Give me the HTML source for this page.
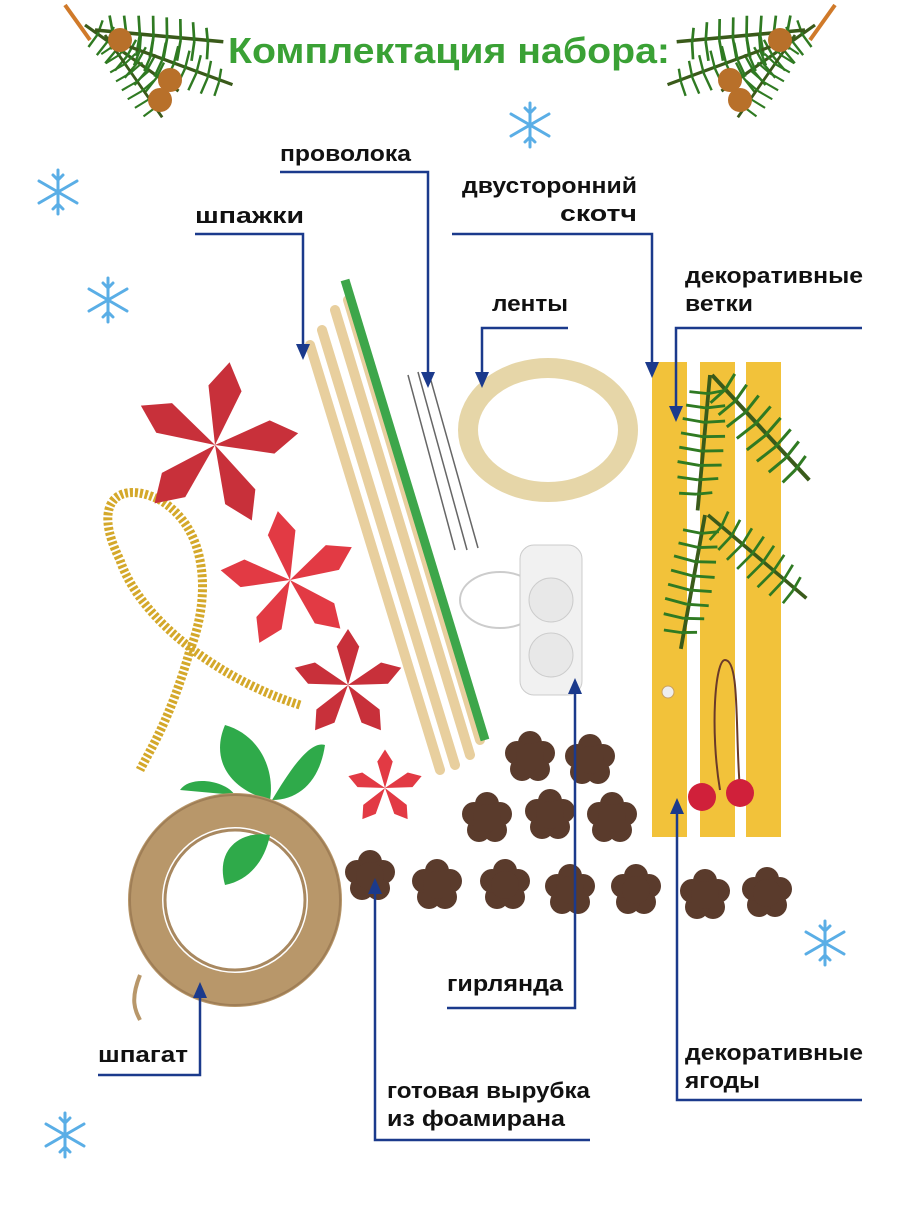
<!DOCTYPE html>
<html><head><meta charset="utf-8"><style>
body{margin:0;background:#fff;width:900px;height:1200px;overflow:hidden;font-family:"Liberation Sans",sans-serif}
</style></head><body>
<svg width="900" height="1200" viewBox="0 0 900 1200" xmlns="http://www.w3.org/2000/svg" font-family="Liberation Sans, sans-serif">
<defs>
<g id="fl"><g fill="#5a3b2c"><circle cx="0" cy="-14" r="12"/><circle cx="13" cy="-4" r="12"/><circle cx="8" cy="12" r="12"/><circle cx="-8" cy="12" r="12"/><circle cx="-13" cy="-4" r="12"/><circle r="14"/></g></g>
<g id="poin"><g><path d="M0,0 L-14,-48 L0,-70 L14,-48Z"/><path d="M0,0 L-14,-48 L0,-70 L14,-48Z" transform="rotate(72)"/><path d="M0,0 L-14,-48 L0,-70 L14,-48Z" transform="rotate(144)"/><path d="M0,0 L-14,-48 L0,-70 L14,-48Z" transform="rotate(216)"/><path d="M0,0 L-14,-48 L0,-70 L14,-48Z" transform="rotate(288)"/></g></g>
<g id="sf" stroke="#5aaee6" stroke-width="3" stroke-linecap="round" fill="none"><path d="M0,-22V22M-19,-11L19,11M-19,11L19,-11M-5,-17L0,-12L5,-17M-5,17L0,12L5,17"/></g>
<g id="pine" stroke="#2f7a22" stroke-width="3"><path d="M0,0 L60,130" stroke="#3a5a1a" stroke-width="4"/>
<path d="M8,18l-18,8M14,32l-20,8M20,46l-22,8M26,60l-22,8M32,74l-22,8M38,88l-22,8M44,102l-20,8M50,116l-16,8M8,18l14,-12M14,32l16,-12M20,46l18,-12M26,60l20,-12M32,74l20,-12M38,88l20,-12M44,102l18,-12M50,116l14,-10"/></g>
<g id="corner">
<use href="#pine" transform="translate(20,20) rotate(-30) scale(0.8)"/>
<use href="#pine" transform="translate(30,25) rotate(-60) scale(0.9)"/>
<use href="#pine" transform="translate(40,30) rotate(-10) scale(0.7)"/>
<use href="#pine" transform="translate(60,40) rotate(-45) scale(0.8)"/>
<path d="M0,0 L25,35" stroke="#d07a2a" stroke-width="4"/>
<circle cx="55" cy="35" r="12" fill="#b8702a"/><circle cx="105" cy="75" r="12" fill="#b8702a"/><circle cx="95" cy="95" r="12" fill="#b8702a"/>
</g>
</defs>

<text x="228" y="63" font-size="36" font-weight="bold" fill="#3aa135" textLength="442" lengthAdjust="spacingAndGlyphs">Комплектация набора:</text>
<use href="#corner" transform="translate(65,5)"/>
<use href="#corner" transform="translate(835,5) scale(-1,1)"/>

<use href="#sf" x="530" y="125"/><use href="#sf" x="58" y="192"/><use href="#sf" x="108" y="300"/><use href="#sf" x="825" y="943"/><use href="#sf" x="65" y="1135"/>

<path d="M300,705 C220,680 140,620 120,560 C90,500 120,480 160,500 C210,530 210,600 190,650 C170,720 150,750 140,770" fill="none" stroke="#d4a82a" stroke-width="9" stroke-dasharray="3 2"/>
<g fill="#c8303a"><use href="#poin" transform="translate(215,445) scale(1.2) rotate(10)"/></g>
<g fill="#e23a44"><use href="#poin" transform="translate(290,580) scale(1.0) rotate(-10)"/></g>
<g fill="#c8303a"><use href="#poin" transform="translate(348,685) scale(0.8)"/></g>
<g fill="#e23a44"><use href="#poin" transform="translate(385,788) scale(0.55)"/></g>
<path d="M270,800 C230,790 210,760 225,725 C260,735 275,770 270,800Z" fill="#2faa4a"/>
<path d="M272,800 C290,770 310,740 325,745 C320,780 300,800 272,800Z" fill="#2faa4a"/>
<path d="M180,790 C190,775 225,780 235,795Z" fill="#2faa4a"/>
<circle cx="235" cy="900" r="90" fill="none" stroke="#b8976a" stroke-width="34"/>
<circle cx="235" cy="900" r="70" fill="none" stroke="#a88860" stroke-width="3"/>
<circle cx="235" cy="900" r="105" fill="none" stroke="#9f7e56" stroke-width="2"/>
<path d="M225,885 C215,850 240,830 270,835 C265,860 250,880 225,885Z" fill="#2faa4a"/>
<path d="M140,975 C130,1000 135,1010 140,1020" stroke="#b8976a" stroke-width="4" fill="none"/>
<g stroke="#e8cf9e" stroke-width="10" stroke-linecap="round">
<path d="M310,345 L440,770"/><path d="M322,330 L455,765"/><path d="M335,310 L470,755"/><path d="M348,300 L480,740"/></g>
<path d="M345,280 L485,740" stroke="#3da64a" stroke-width="9"/>
<g stroke="#666" stroke-width="1.5"><path d="M408,375 L455,550"/><path d="M418,372 L467,550"/><path d="M428,370 L478,548"/></g>
<ellipse cx="548" cy="430" rx="80" ry="62" fill="none" stroke="#e6d6a8" stroke-width="20"/>
<ellipse cx="500" cy="600" rx="40" ry="28" fill="none" stroke="#ccc" stroke-width="2"/>
<rect x="520" y="545" width="62" height="150" rx="14" fill="#f1f1f1" stroke="#ccc"/>
<circle cx="551" cy="600" r="22" fill="#e8e8e8" stroke="#ccc"/><circle cx="551" cy="655" r="22" fill="#e8e8e8" stroke="#ccc"/>
<rect x="652" y="362" width="35" height="475" fill="#f2c23a"/>
<rect x="700" y="362" width="35" height="475" fill="#f2c23a"/>
<rect x="746" y="362" width="35" height="475" fill="#f2c23a"/>
<use href="#pine" transform="translate(710,375) rotate(30) scale(0.95)"/>
<use href="#pine" transform="translate(712,375) rotate(-18) scale(1.0)"/>
<use href="#pine" transform="translate(705,515) rotate(35) scale(0.95)"/>
<use href="#pine" transform="translate(708,515) rotate(-25) scale(0.9)"/>
<path d="M720,790 C710,730 715,660 725,660 C740,660 735,730 740,790" fill="none" stroke="#6a3a2a" stroke-width="2"/>
<circle cx="702" cy="797" r="14" fill="#d0203a"/><circle cx="740" cy="793" r="14" fill="#d0203a"/>
<circle cx="668" cy="692" r="6" fill="#eee" stroke="#c9a060"/>
<use href="#fl" x="530" y="757"/><use href="#fl" x="590" y="760"/>
<use href="#fl" x="487" y="818"/><use href="#fl" x="550" y="815"/><use href="#fl" x="612" y="818"/>
<use href="#fl" x="370" y="876"/><use href="#fl" x="437" y="885"/><use href="#fl" x="505" y="885"/><use href="#fl" x="570" y="890"/><use href="#fl" x="636" y="890"/><use href="#fl" x="705" y="895"/><use href="#fl" x="767" y="893"/>

<g fill="none" stroke="#1b3a8c" stroke-width="2.5">
<path d="M280,172H428V378"/>
<path d="M195,234H303V350"/>
<path d="M452,234H652V368"/>
<path d="M568,328H482V378"/>
<path d="M862,328H676V412"/>
<path d="M447,1008H575V688"/>
<path d="M98,1075H200V992"/>
<path d="M590,1140H375V888"/>
<path d="M862,1100H677V808"/>
</g>
<g fill="#1b3a8c">
<path d="M421,372h14l-7,16z"/>
<path d="M296,344h14l-7,16z"/>
<path d="M645,362h14l-7,16z"/>
<path d="M475,372h14l-7,16z"/>
<path d="M669,406h14l-7,16z"/>
<path d="M568,694h14l-7,-16z"/>
<path d="M193,998h14l-7,-16z"/>
<path d="M368,894h14l-7,-16z"/>
<path d="M670,814h14l-7,-16z"/>
</g>
<g font-size="22" font-weight="bold" fill="#111" lengthAdjust="spacingAndGlyphs">
<text x="280" y="161" textLength="131" lengthAdjust="spacingAndGlyphs">проволока</text>
<text x="195" y="223" textLength="109" lengthAdjust="spacingAndGlyphs">шпажки</text>
<text x="462" y="193" textLength="175" lengthAdjust="spacingAndGlyphs">двусторонний</text>
<text x="560" y="221" textLength="77" lengthAdjust="spacingAndGlyphs">скотч</text>
<text x="492" y="311" textLength="76" lengthAdjust="spacingAndGlyphs">ленты</text>
<text x="685" y="283" textLength="178" lengthAdjust="spacingAndGlyphs">декоративные</text>
<text x="685" y="311" textLength="68" lengthAdjust="spacingAndGlyphs">ветки</text>
<text x="447" y="991" textLength="116" lengthAdjust="spacingAndGlyphs">гирлянда</text>
<text x="98" y="1062" textLength="90" lengthAdjust="spacingAndGlyphs">шпагат</text>
<text x="387" y="1098" textLength="203" lengthAdjust="spacingAndGlyphs">готовая вырубка</text>
<text x="387" y="1126" textLength="178" lengthAdjust="spacingAndGlyphs">из фоамирана</text>
<text x="685" y="1060" textLength="178" lengthAdjust="spacingAndGlyphs">декоративные</text>
<text x="685" y="1088" textLength="75" lengthAdjust="spacingAndGlyphs">ягоды</text>
</g>
</svg>
</body></html>
